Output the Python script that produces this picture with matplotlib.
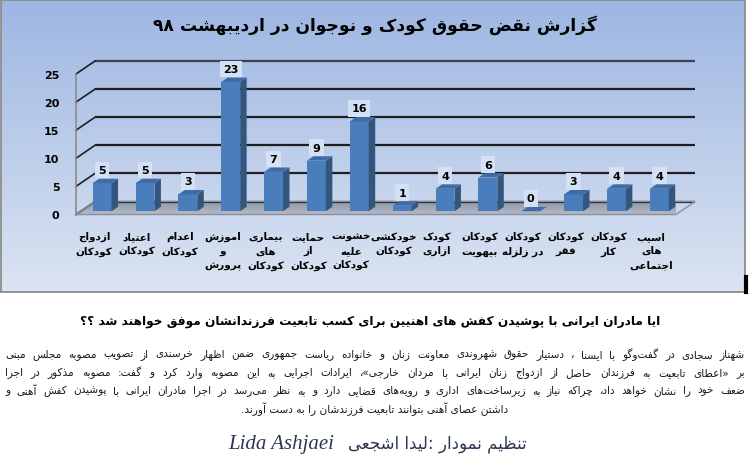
import re
import numpy as np
import matplotlib
matplotlib.use("Agg")
import matplotlib.pyplot as plt
from matplotlib.patches import Polygon
from matplotlib.lines import Line2D
from matplotlib.colors import LinearSegmentedColormap

plt.rcParams["font.family"] = ["DejaVu Sans"]

# ---------------------------------------------------------------- data
title = "گزارش نقض حقوق کودک و نوجوان در اردیبهشت ۹۸"
categories = [
    "ازدواج\nکودکان", "اعتیاد\nکودکان", "اعدام\nکودکان", "اموزش\nو\nپرورش",
    "بیماری\nهای\nکودکان", "حمایت\nاز\nکودکان", "خشونت\nعلیه\nکودکان",
    "خودکشی\nکودکان", "کودک\nازاری", "کودکان\nبیهویت", "کودکان\nدر زلزله",
    "کودکان\nفقر", "کودکان\nکار", "اسیب\nهای\nاجتماعی",
]
values = [5, 5, 3, 23, 7, 9, 16, 1, 4, 6, 0, 3, 4, 4]
y_ticks = [0, 5, 10, 15, 20, 25]

subtitle = "ایا مادران ایرانی با پوشیدن کفش های اهنیین برای کسب تابعیت فرزندانشان موفق خواهند شد ؟؟"
body_lines = [
    "شهناز سجادی در گفت‌وگو با ایسنا ، دستیار حقوق شهروندی معاونت زنان و خانواده ریاست جمهوری ضمن اظهار خرسندی از تصویب مصوبه مجلس مبنی",
    "بر «اعطای تابعیت به فرزندان حاصل از ازدواج زنان ایرانی با مردان خارجی»، ایرادات اجرایی به این مصوبه وارد کرد و گفت: مصوبه مذکور در اجرا",
    "ضعف خود را نشان خواهد داد، چراکه نیاز به زیرساخت‌های اداری و رویه‌های قضایی دارد و به نظر می‌رسد در اجرا مادران ایرانی با پوشیدن کفش آهنی و",
    "داشتن عصای آهنی بتوانند تابعیت فرزندشان را به دست آورند.",
]
credit_fa = "تنظیم نمودار :لیدا اشجعی"
credit_en = "Lida Ashjaei"

# ------------------------------------------------- Arabic-script shaping
DUAL = {
    "ب": 0xFE8F, "ت": 0xFE95, "ث": 0xFE99, "ج": 0xFE9D, "ح": 0xFEA1,
    "خ": 0xFEA5, "س": 0xFEB1, "ش": 0xFEB5, "ص": 0xFEB9, "ض": 0xFEBD,
    "ط": 0xFEC1, "ظ": 0xFEC5, "ع": 0xFEC9, "غ": 0xFECD, "ف": 0xFED1,
    "ق": 0xFED5, "ك": 0xFED9, "ل": 0xFEDD, "م": 0xFEE1, "ن": 0xFEE5,
    "ه": 0xFEE9, "ي": 0xFEF1, "ئ": 0xFE89, "پ": 0xFB56, "چ": 0xFB7A,
    "ک": 0xFB8E, "گ": 0xFB92, "ی": 0xFBFC,
}
RIGHT = {
    "ا": 0xFE8D, "آ": 0xFE81, "أ": 0xFE83, "إ": 0xFE87, "ؤ": 0xFE85,
    "د": 0xFEA9, "ذ": 0xFEAB, "ر": 0xFEAD, "ز": 0xFEAF, "و": 0xFEED,
    "ة": 0xFE93, "ژ": 0xFB8A, "ى": 0xFEEF,
}
LAM_ALEF = {"ا": 0xFEFB, "آ": 0xFEF5, "أ": 0xFEF7, "إ": 0xFEF9}
MIRROR = {"«": "»", "»": "«", "(": ")", ")": "("}


def _joinable(c):
    return c in DUAL or c in RIGHT


def _shape(line):
    out, n, i = [], len(line), 0
    while i < n:
        c = line[i]
        prev = line[i - 1] if i > 0 else ""
        join_prev = prev in DUAL and _joinable(c)
        if c == "ل" and i + 1 < n and line[i + 1] in LAM_ALEF:
            out.append(chr(LAM_ALEF[line[i + 1]] + (1 if join_prev else 0)))
            i += 2
            continue
        nxt = line[i + 1] if i + 1 < n else ""
        if c in DUAL:
            join_next = _joinable(nxt)
            form = 3 if (join_prev and join_next) else 1 if join_prev else 2 if join_next else 0
            out.append(chr(DUAL[c] + form))
        elif c in RIGHT:
            out.append(chr(RIGHT[c] + (1 if join_prev else 0)))
        elif c == "\u200c":
            pass
        else:
            out.append(c)
        i += 1
    return "".join(out)


def rtl(text):
    lines = []
    for line in text.split("\n"):
        rev = "".join(MIRROR.get(ch, ch) for ch in reversed(_shape(line)))
        rev = re.sub(r"[0-9\u06F0-\u06F9A-Za-z]+", lambda m: m.group(0)[::-1], rev)
        lines.append(rev)
    return "\n".join(lines)


# ---------------------------------------------------------------- figure
W, H = 750, 464
fig = plt.figure(figsize=(W / 100, H / 100), dpi=100)
fig.patch.set_facecolor("white")
renderer = fig.canvas.get_renderer()


def rect(x0, y0, x1, y1):
    return [x0 / W, 1 - y1 / H, (x1 - x0) / W, (y1 - y0) / H]


def justified(line, y_px, x0_px, x1_px, **kw):
    """Draw one RTL line stretched between two pixel positions, word by word."""
    words = rtl(line).split(" ")
    words = [wd for wd in words if wd]
    arts = [fig.text(0, 1 - y_px / H, wd, ha="left", va="center", **kw) for wd in words]
    widths = [a.get_window_extent(renderer).width for a in arts]
    gap = (x1_px - x0_px - sum(widths)) / max(len(words) - 1, 1)
    pos = x0_px
    for a, wd_w in zip(arts, widths):
        a.set_x(pos / W)
        pos += wd_w + gap


# chart panel with vertical gradient
bg = fig.add_axes(rect(1, 1, 745, 293), zorder=0)
panel_cmap = LinearSegmentedColormap.from_list("panel", ["#9db6e2", "#dbe4f2"])
bg.imshow(np.linspace(0, 1, 256).reshape(-1, 1), cmap=panel_cmap, aspect="auto",
          extent=(0, 1, 0, 1), origin="upper")
bg.set_xticks([])
bg.set_yticks([])
for s in bg.spines.values():
    s.set_color("#8c8c8c")
    s.set_linewidth(1.3)

# plotting area (front plane of the 3-D box)
ax = fig.add_axes(rect(76, 75, 676, 215.5), zorder=1)
ax.set_facecolor("none")
n = len(values)
x = np.arange(n)

# depth of the box expressed in data units
DX = 19 / (600 / n)
DY = 13 / (140.5 / 25)

# floor
floor = Polygon([(-0.5, 0), (n - 0.5, 0), (n - 0.5 + DX, DY), (-0.5 + DX, DY)],
                closed=True, fc="none", ec="#8a8f99", lw=1.0, zorder=1.5,
                clip_on=False)
ax.add_patch(floor)
floor_cmap = LinearSegmentedColormap.from_list("floor", ["#b8bdc8", "#8e97a9"])
im = ax.imshow(np.linspace(0, 1, 64).reshape(-1, 1), cmap=floor_cmap, aspect="auto",
               origin="lower", extent=(-0.5, n - 0.5 + DX, 0, DY), zorder=1.2)
im.set_clip_path(floor)
ax.set_xlim(-0.5, n - 0.5)
ax.set_ylim(0, 25)

# back-wall gridlines and side-wall edges
for v in y_ticks:
    col = "#3a4150" if v == 25 else "#1f1f1f"
    ax.plot([-0.5 + DX, n - 0.5 + DX], [v + DY, v + DY], color=col, lw=1.6,
            clip_on=False, zorder=1.3, solid_capstyle="butt")
    ax.plot([-0.5, -0.5 + DX], [v, v + DY], color="#1f1f1f", lw=1.2,
            clip_on=False, zorder=1.3)
ax.plot([-0.5, -0.5], [0, 25], color="#8c8c8c", lw=1.2, clip_on=False, zorder=1.4)

# bars with side and top faces
w = 0.44
sx, sy = 0.25 * DX, 0.25 * DY
bx, by = 0.34 * DX, 0.34 * DY
front_c, side_c, top_c = "#4a7dbb", "#33567f", "#3f6ca6"
ax.bar(x + sx, values, width=w, bottom=sy, color=front_c, zorder=3, clip_on=False)
for xi, v in zip(x, values):
    xl, xr = xi + sx - w / 2, xi + sx + w / 2
    top = v + sy
    ax.add_patch(Polygon([(xr, sy), (xr + bx, sy + by), (xr + bx, top + by), (xr, top)],
                         closed=True, fc=side_c, ec="none", zorder=3, clip_on=False))
    ax.add_patch(Polygon([(xl, top), (xr, top), (xr + bx, top + by), (xl + bx, top + by)],
                         closed=True, fc=top_c, ec="none", zorder=3, clip_on=False))
    ax.annotate(str(v), (xi + sx, top), xytext=(0, 13), textcoords="offset pixels",
                ha="center", va="center", fontsize=8, fontweight="bold", color="black",
                bbox=dict(boxstyle="square,pad=0.3", fc="#d4e0f3", ec="none"),
                zorder=5, annotation_clip=False)

# axes text
ax.set_yticks(y_ticks)
ax.set_yticklabels([str(t) for t in y_ticks], fontsize=8, fontweight="bold")
ax.set_xticks(x - 0.08)
ax.set_xticklabels([rtl(c) for c in categories], fontsize=7.5, fontweight="bold",
                   linespacing=1.5)
ax.tick_params(axis="y", length=0, pad=12)
ax.tick_params(axis="x", length=0, pad=12)
for s in ax.spines.values():
    s.set_visible(False)

# title
fig.text(0.5, 1 - 25 / H, rtl(title), ha="center", va="center", fontsize=12.3,
         fontweight="bold", color="black")

# article text under the chart
fig.text(370 / W, 1 - 322 / H, rtl(subtitle), ha="center", va="center", fontsize=8.7,
         fontweight="bold", color="black")
for yy, line in zip([355, 373, 391], body_lines[:3]):
    justified(line, yy, 5, 745, fontsize=7.6, color="#1a1a1a")
fig.text(375 / W, 1 - 409 / H, rtl(body_lines[3]), ha="center", va="center",
         fontsize=7.6, color="#1a1a1a")

fig.text(527 / W, 1 - 444 / H, rtl(credit_fa), ha="right", va="center", fontsize=12,
         color="#2b3752")
fig.text(228 / W, 1 - 445 / H, credit_en, ha="left", va="center", fontsize=15,
         family="Liberation Serif", style="italic", color="#2b3752")

fig.add_artist(Line2D([746 / W, 746 / W], [1 - 293 / H, 1 - 278 / H], color="black",
                      lw=3))

fig.savefig("out.png", dpi=100)
